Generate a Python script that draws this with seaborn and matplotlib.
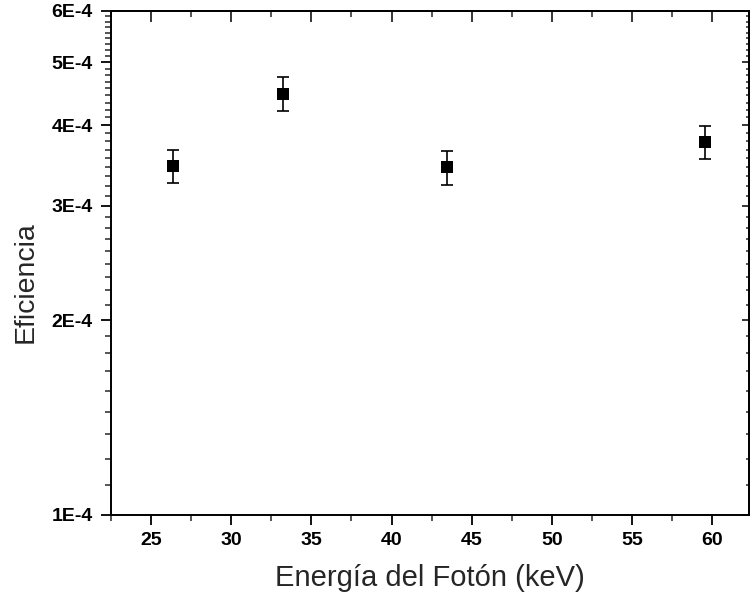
import numpy as np
import pandas as pd
import seaborn as sns
import matplotlib.pyplot as plt
from matplotlib.ticker import FixedLocator, FuncFormatter

# data
energia = [26.35, 33.2, 43.45, 59.55]
eficiencia = [3.46e-4, 4.47e-4, 3.44e-4, 3.77e-4]
error = [0.20e-4, 0.27e-4, 0.21e-4, 0.22e-4]

x_ticks = [25, 30, 35, 40, 45, 50, 55, 60]
y_ticks = [1e-4, 2e-4, 3e-4, 4e-4, 5e-4, 6e-4]

df = pd.DataFrame({'energia': energia, 'eficiencia': eficiencia, 'error': error})

sns.set_style('ticks')
plt.rcParams['font.family'] = ['Liberation Sans', 'DejaVu Sans']

fig = plt.figure(figsize=(7.51, 6.01), dpi=100)
ax = fig.add_axes([0.1478, 0.1431, 0.8495, 0.8386])

ax.errorbar(df.energia, df.eficiencia, yerr=df.error, fmt='none',
            ecolor='black', elinewidth=1.2, capsize=4.3, capthick=1.2, zorder=2)
sns.scatterplot(data=df, x='energia', y='eficiencia', marker='s', s=70,
                color='black', edgecolor='black', linewidth=0, ax=ax, zorder=3)

ax.set_yscale('log')
ax.set_xlim(22.5, 62.3)
ax.set_ylim(1e-4, 6e-4)

# minor ticks: 8 per major step, as in the original
y_minor = [m * 1e-4 + k * 1e-4 / 9 for m in range(1, 6) for k in range(1, 9)]
x_minor = [27.5, 32.5, 37.5, 42.5, 47.5, 52.5, 57.5, 22.5]

fmt = FuncFormatter(lambda v, p: f'{v * 1e4:.0f}E-4')

ax.xaxis.set_major_locator(FixedLocator(x_ticks))
ax.xaxis.set_minor_locator(FixedLocator(x_minor))
ax.yaxis.set_major_locator(FixedLocator(y_ticks))
ax.yaxis.set_minor_locator(FixedLocator(y_minor))
ax.yaxis.set_major_formatter(fmt)
ax.yaxis.set_minor_formatter(FuncFormatter(lambda v, p: ''))

ax.tick_params(which='major', direction='out', length=7, width=1.3)
ax.tick_params(which='minor', direction='out', length=4, width=1.1)
ax.tick_params(axis='x', which='major', pad=5)
ax.tick_params(axis='y', which='major', pad=6)
ax.tick_params(axis='both', labelsize=14, colors='black')
for lab in ax.get_xticklabels() + ax.get_yticklabels():
    lab.set_fontweight('bold')

for s in ax.spines.values():
    s.set_linewidth(1.4)
    s.set_color('black')

# top and right ticks point inward
top = ax.secondary_xaxis('top')
top.xaxis.set_major_locator(FixedLocator(x_ticks))
top.xaxis.set_minor_locator(FixedLocator(x_minor))
top.tick_params(which='major', direction='in', length=8, width=1.3, labeltop=False)
top.tick_params(which='minor', direction='in', length=4, width=1.1)
top.spines['top'].set_linewidth(1.4)

right = ax.secondary_yaxis('right')
right.yaxis.set_major_locator(FixedLocator(y_ticks))
right.yaxis.set_minor_locator(FixedLocator(y_minor))
right.tick_params(which='major', direction='in', length=5, width=1.3, labelright=False)
right.tick_params(which='minor', direction='in', length=2, width=1.1, labelright=False)
right.spines['right'].set_linewidth(1.4)

ax.set_xlabel('Energía del Fotón (keV)', fontsize=21)
ax.set_ylabel('Eficiencia', fontsize=20.5)
ax.xaxis.set_label_coords(0.5, -0.098)
ax.yaxis.set_label_coords(-0.114, 0.462)

fig.savefig('out.png', dpi=100)
